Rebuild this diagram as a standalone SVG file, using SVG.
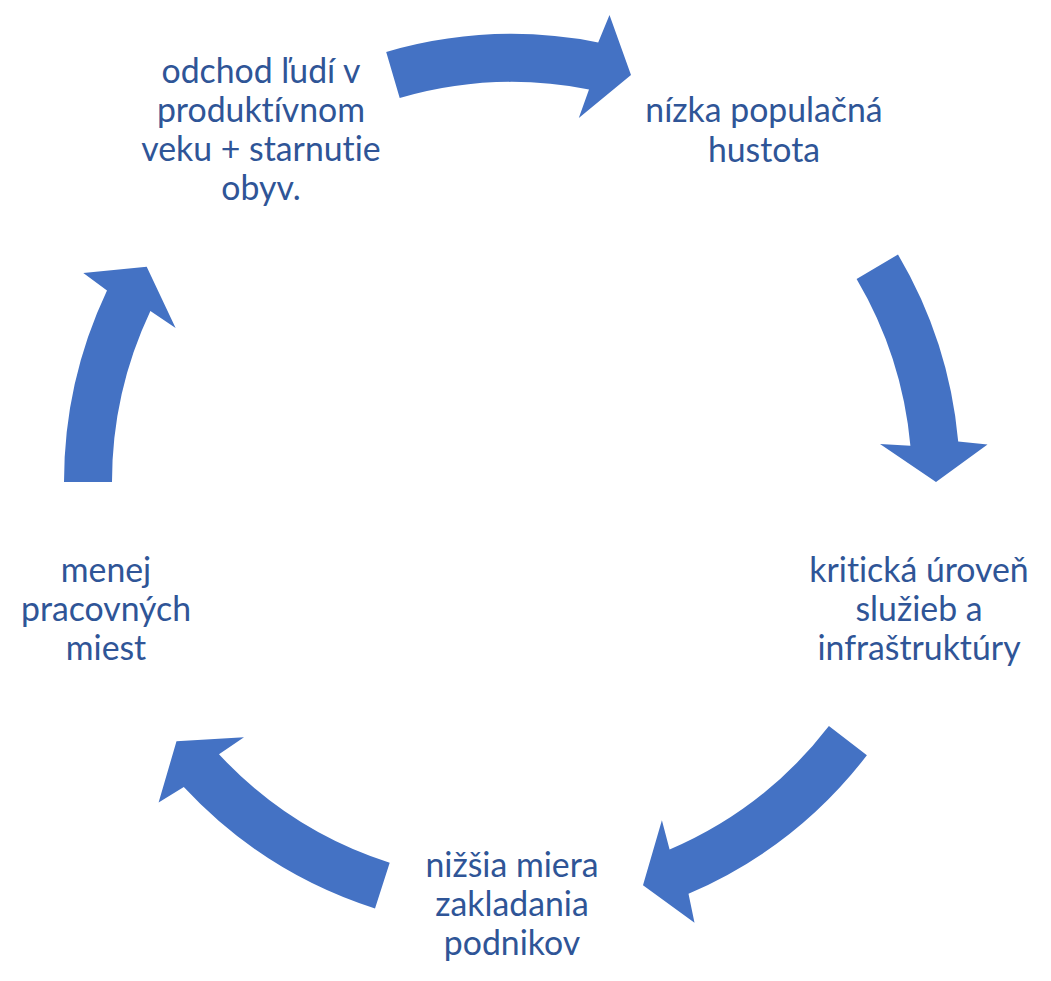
<svg xmlns="http://www.w3.org/2000/svg" width="1051" height="981" viewBox="0 0 1051 981">
<style>
.arrow{fill:#4472C4;stroke:none}
.lbl{font-family:Lato,"Open Sans","Liberation Sans",sans-serif;font-size:33.8px;fill:#2F5597;text-anchor:middle;font-variant-ligatures:none}
</style>
<rect width="1051" height="981" fill="#FFFFFF"/>
<g id="connectors">
<path class="arrow" d="M386.2,52.0 A448,448 0 0 1 598.2,42.4 L609.5,15.1 L631.0,75.0 L578.8,118.1 L589.0,89.5 A400,400 0 0 0 399.7,98.1 Z"/>
<path class="arrow" d="M898.0,254.6 A448,448 0 0 1 958.2,441.4 L987.5,444.6 L936,482 L880.0,444.0 L910.4,445.7 A400,400 0 0 0 856.6,279.0 Z"/>
<path class="arrow" d="M866.9,755.3 A448,448 0 0 1 688.5,893.8 L694.5,922.7 L643.0,885.3 L661.9,820.3 L669.6,849.6 A400,400 0 0 0 828.9,726.0 Z"/>
<path class="arrow" d="M375.0,908.5 A448,448 0 0 1 183.8,787.0 L158.6,802.4 L176.5,741.3 L244.0,737.2 L219.0,754.3 A400,400 0 0 0 389.7,862.8 Z"/>
<path class="arrow" d="M64,482 A448,448 0 0 1 107.0,290.5 L83.3,272.9 L146.7,266.8 L175.6,328.0 L150.4,311.0 A400,400 0 0 0 112,482 Z"/>
</g>
<g id="node1">
<text class="lbl" x="261" y="83">odchod ľudí v</text>
<text class="lbl" x="261" y="122">produktívnom</text>
<text class="lbl" x="261" y="161">veku + starnutie</text>
<text class="lbl" x="261" y="200">obyv.</text>
</g>
<g id="node2">
<text class="lbl" x="764" y="122">nízka populačná</text>
<text class="lbl" x="764" y="162">hustota</text>
</g>
<g id="node3">
<text class="lbl" x="919" y="582">kritická úroveň</text>
<text class="lbl" x="919" y="621">služieb a</text>
<text class="lbl" x="919" y="660">infraštruktúry</text>
</g>
<g id="node4">
<text class="lbl" x="512" y="877">nižšia miera</text>
<text class="lbl" x="512" y="916">zakladania</text>
<text class="lbl" x="512" y="955">podnikov</text>
</g>
<g id="node5">
<text class="lbl" x="106" y="582">menej</text>
<text class="lbl" x="106" y="621">pracovných</text>
<text class="lbl" x="106" y="660">miest</text>
</g>
</svg>
